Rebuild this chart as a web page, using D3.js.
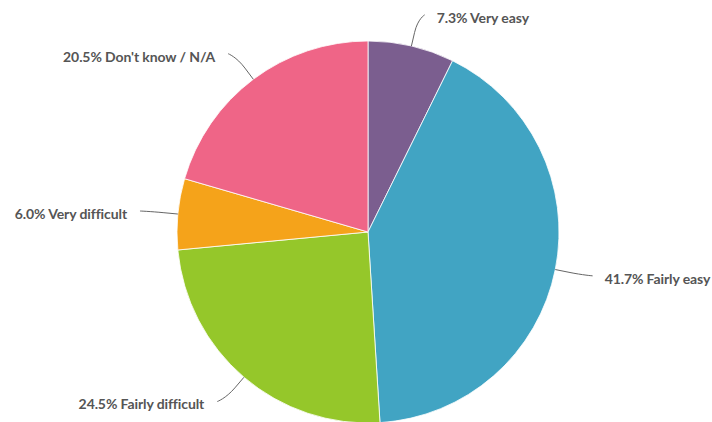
<!DOCTYPE html>
<html>
<head>
<meta charset="utf-8">
<script src="https://cdn.jsdelivr.net/npm/d3@7"></script>
<style>
  html, body { margin: 0; padding: 0; background: #fff; }
  svg { display: block; }
</style>
</head>
<body>
<svg id="chart" width="712" height="422"></svg>
<script>
const categories = ["Very easy", "Fairly easy", "Fairly difficult", "Very difficult", "Don't know / N/A"];
const values = [7.3, 41.7, 24.5, 6.0, 20.5];
const colors = ["#7b5e8f", "#41a4c3", "#95c72a", "#f5a31a", "#ef6587"];

const W = 712, H = 422;
const cx = 368, cy = 232, r = 191;
const labelDist = 32;

const svg = d3.select("#chart");
const g = svg.append("g").attr("transform", `translate(${cx},${cy})`);

const data = categories.map((c, i) => ({ cat: c, value: values[i], color: colors[i] }));
const pie = d3.pie().value(d => d.value).sort(null);
const arcs = pie(data);
const arc = d3.arc().innerRadius(0).outerRadius(r);

g.selectAll("path.slice")
  .data(arcs)
  .join("path")
  .attr("class", "slice")
  .attr("d", arc)
  .attr("fill", d => d.data.color)
  .attr("stroke", "#ffffff")
  .attr("stroke-width", 0.8)
  .attr("stroke-linejoin", "round");

const R = r + labelDist;
arcs.forEach(d => {
  const a = (d.startAngle + d.endAngle) / 2;
  const sx = Math.sin(a), sy = -Math.cos(a);
  const right = sx >= 0;
  const ex = r * sx, ey = r * sy;            // edge point
  const bx = (r + 14) * sx, by = (r + 14) * sy; // break point
  const ly = R * sy;
  const lx = (right ? 1 : -1) * (Math.sqrt(Math.max(0, R * R - ly * ly)) + 6);
  const path = d3.path();
  path.moveTo(lx, ly);
  path.bezierCurveTo(lx, ly, 2 * bx - ex, 2 * by - ey, bx, by);
  path.lineTo(ex, ey);
  g.append("path")
    .attr("d", path.toString())
    .attr("fill", "none")
    .attr("stroke", "#666")
    .attr("stroke-width", 1);
  g.append("text")
    .attr("x", lx + (right ? 12 : -13))
    .attr("y", ly + 3)
    .attr("dy", "0.35em")
    .attr("text-anchor", right ? "start" : "end")
    .attr("font-family", "Lato, 'Open Sans', sans-serif")
    .attr("font-weight", "bold")
    .attr("font-size", 14)
    .attr("letter-spacing", -0.1)
    .attr("fill", "#555")
    .attr("stroke", "#fff")
    .attr("stroke-width", 1)
    .attr("paint-order", "stroke")
    .text(d3.format(".1f")(d.data.value) + "% " + d.data.cat);
});
</script>
</body>
</html>
